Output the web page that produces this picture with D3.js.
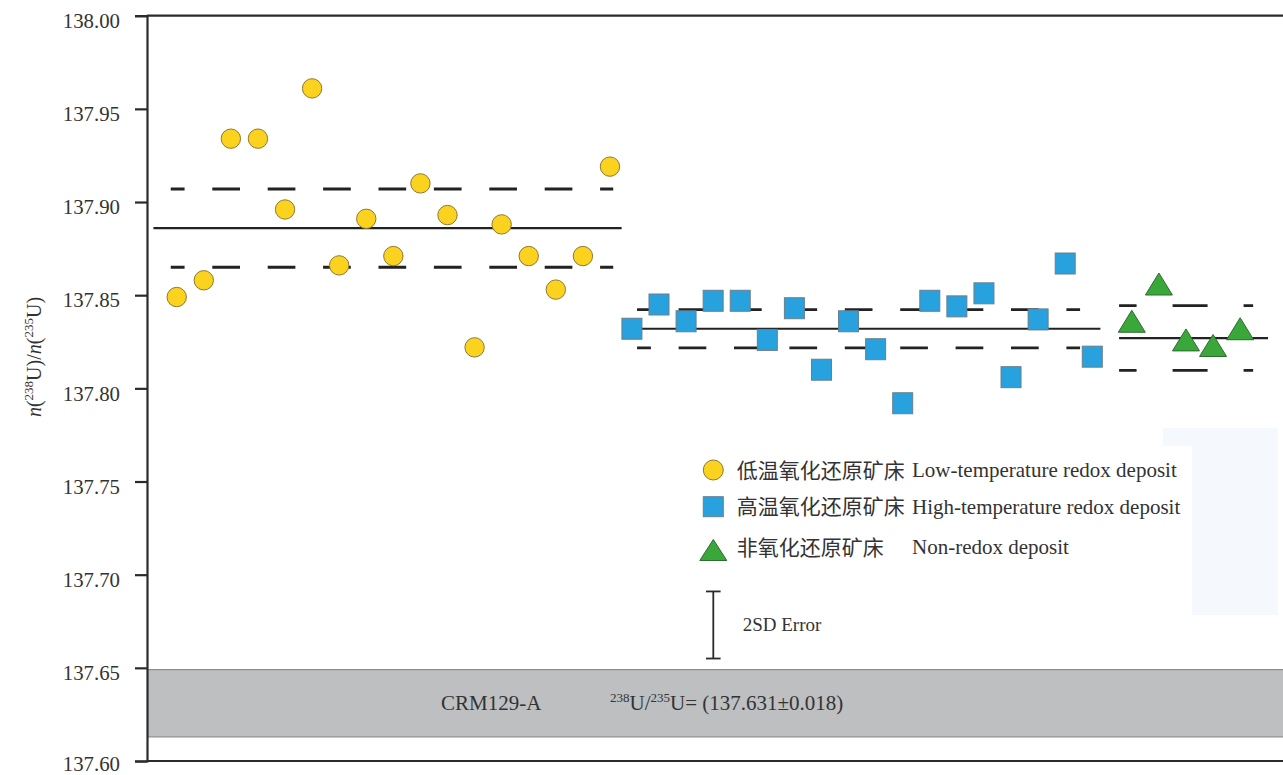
<!DOCTYPE html>
<html>
<head>
<meta charset="utf-8">
<script src="https://cdn.jsdelivr.net/npm/d3@7"></script>
<style>
  html, body { margin: 0; padding: 0; background: #ffffff; }
  svg { display: block; }
</style>
</head>
<body>
<svg id="chart" width="1283" height="775"></svg>
<script>
// ---- data ----
const categories = ["低温氧化还原矿床", "高温氧化还原矿床", "非氧化还原矿床"];
const categoriesEn = ["Low-temperature redox deposit", "High-temperature redox deposit", "Non-redox deposit"];

// n(238U)/n(235U) of individual samples
const lowTempRatios = [137.849, 137.858, 137.934, 137.934, 137.896, 137.961, 137.866, 137.891, 137.871,
                       137.910, 137.893, 137.822, 137.888, 137.871, 137.853, 137.871, 137.919];
const highTempRatios = [137.832, 137.845, 137.836, 137.847, 137.847, 137.826, 137.843, 137.810, 137.836,
                        137.821, 137.792, 137.847, 137.844, 137.851, 137.806, 137.837, 137.867, 137.817];
const nonRedoxRatios = [137.836, 137.856, 137.826, 137.823, 137.832];

// group mean and half-width of the dashed envelope
const groupMeans = [137.886, 137.832, 137.827];
const groupBands = [0.021, 0.0103, 0.0174];

const yTicks = [137.60, 137.65, 137.70, 137.75, 137.80, 137.85, 137.90, 137.95, 138.00];

// reference material CRM129-A
const crmRatio = 137.631;
const crmUncertainty = 0.018;

// 2SD error scale bar
const errorBarCenter = 137.673;
const errorBarHalf = 0.018;

// ---- layout ----
const SERIF = '"Liberation Serif", "Times New Roman", serif';
const CJK = '"Noto Sans CJK SC", sans-serif';
const TEXT_COLOR = "#333333";

const svg = d3.select("#chart");
const W = 1283, H = 775;
const axisX = 147;
const y = d3.scaleLinear().domain([137.60, 138.00]).range([761, 15.7]);
// horizontal position in sample slots
const x = d3.scaleLinear().domain([0, 1]).range([176.7, 176.7 + 27.08]);

const groupStart = [0, 16.81, 35.27];
const groupData = [lowTempRatios, highTempRatios, nonRedoxRatios];
// extents of the mean (solid) and envelope (dashed) lines, relative to first/last slot
const meanExtent = [[-0.86, 0.43], [-0.1, 0.3], [-0.47, 1.03]];
const dashExtent = [[-0.22, 0.12], [0.19, -0.45], [-0.47, 0.48]];
const dashPattern = [[27.7, 27.7], [27.7, 27.7], [35, 36]];

const colors = {
  circleFill: "#fbd31e", circleStroke: "#8a7a34",
  squareFill: "#27a2df", squareStroke: "#6a7e8c",
  triFill: "#3aa73a", triStroke: "#2f6a30"
};

function serifText(sel, size) {
  return sel.append("text")
    .style("font-family", SERIF).style("font-size", size + "px").style("fill", TEXT_COLOR);
}

// faint tinted patch at the right
svg.append("path")
  .attr("d", "M1163,428 H1278 V615 H1192 V446 H1163 Z")
  .attr("fill", "#f5f8fc");

// CRM129-A band
const bandTop = y(crmRatio + crmUncertainty), bandBot = y(crmRatio - crmUncertainty);
svg.append("rect")
  .attr("x", axisX).attr("y", bandTop)
  .attr("width", W - axisX).attr("height", bandBot - bandTop)
  .attr("fill", "#bebfc1");
[bandTop, bandBot].forEach(v => svg.append("line")
  .attr("x1", axisX).attr("x2", W).attr("y1", v).attr("y2", v)
  .attr("stroke", "#8e8e90").attr("stroke-width", 1.2));

const bandMid = y(crmRatio);
serifText(svg, 21).attr("x", 441).attr("y", bandMid + 7).text("CRM129-A");
const crmText = serifText(svg, 21).attr("x", 610).attr("y", bandMid + 7);
crmText.append("tspan").style("font-size", "13px").attr("dy", -8).text("238");
crmText.append("tspan").attr("dy", 8).text("U/");
crmText.append("tspan").style("font-size", "13px").attr("dy", -8).text("235");
crmText.append("tspan").attr("dy", 8).text("U= (" + crmRatio.toFixed(3) + "±" + crmUncertainty.toFixed(3) + ")");

// y axis
const yAxis = d3.axisLeft(y).tickValues(yTicks).tickFormat(d3.format(".2f"))
  .tickSize(12).tickPadding(15);
const gy = svg.append("g").attr("transform", `translate(${axisX},0)`).call(yAxis);
gy.select(".domain").attr("stroke", "#2b2b2b").attr("stroke-width", 2.2);
gy.selectAll(".tick line").attr("stroke", "#2b2b2b").attr("stroke-width", 2.2);
gy.selectAll(".tick text")
  .attr("dy", d => d === yTicks[0] ? "0.44em" : "0.56em")
  .style("font-family", SERIF).style("font-size", "20.8px").style("fill", TEXT_COLOR);

// top and bottom frame lines
[138.00, 137.60].forEach(v => svg.append("line")
  .attr("x1", axisX).attr("x2", W).attr("y1", y(v)).attr("y2", y(v))
  .attr("stroke", "#2b2b2b").attr("stroke-width", 2.2));

// y axis title
const title = serifText(svg, 20)
  .attr("transform", `translate(41,357) rotate(-90)`)
  .attr("text-anchor", "middle");
title.append("tspan").style("font-style", "italic").text("n");
title.append("tspan").text("(");
title.append("tspan").style("font-size", "13px").attr("dy", -8).text("238");
title.append("tspan").attr("dy", 8).text("U)/");
title.append("tspan").style("font-style", "italic").text("n");
title.append("tspan").text("(");
title.append("tspan").style("font-size", "13px").attr("dy", -8).text("235");
title.append("tspan").attr("dy", 8).text("U)");

// mean and envelope lines per group
groupData.forEach((vals, g) => {
  const first = groupStart[g], last = groupStart[g] + vals.length - 1;
  const m = groupMeans[g], b = groupBands[g];
  svg.append("line")
    .attr("x1", x(first + meanExtent[g][0])).attr("x2", x(last + meanExtent[g][1]))
    .attr("y1", y(m)).attr("y2", y(m))
    .attr("stroke", "#222").attr("stroke-width", 2.2);
  const [dl, gl] = dashPattern[g];
  [m + b, m - b].forEach(v => svg.append("line")
    .attr("x1", x(first + dashExtent[g][0])).attr("x2", x(last + dashExtent[g][1]))
    .attr("y1", y(v)).attr("y2", y(v))
    .attr("stroke", "#222").attr("stroke-width", 2.8)
    .attr("stroke-dasharray", `${dl} ${gl}`)
    .attr("stroke-dashoffset", dl / 2));
});

// marker shapes
function drawCircle(sel, cx, cy, r) {
  sel.append("circle").attr("cx", cx).attr("cy", cy).attr("r", r)
    .attr("fill", colors.circleFill).attr("stroke", colors.circleStroke).attr("stroke-width", 1);
}
function drawSquare(sel, cx, cy, w, h) {
  sel.append("rect").attr("x", cx - w / 2).attr("y", cy - h / 2).attr("width", w).attr("height", h)
    .attr("fill", colors.squareFill).attr("stroke", colors.squareStroke).attr("stroke-width", 1);
}
function drawTriangle(sel, cx, cy, w, h) {
  sel.append("path")
    .attr("d", `M${cx},${cy - h / 2} L${cx + w / 2},${cy + h / 2} L${cx - w / 2},${cy + h / 2} Z`)
    .attr("fill", colors.triFill).attr("stroke", colors.triStroke).attr("stroke-width", 1);
}

const marks = svg.append("g");
lowTempRatios.forEach((v, i) => drawCircle(marks, x(groupStart[0] + i), y(v), 9.7));
highTempRatios.forEach((v, i) => drawSquare(marks, x(groupStart[1] + i), y(v), 20, 21));
nonRedoxRatios.forEach((v, i) => drawTriangle(marks, x(groupStart[2] + i), y(v), 27, 22));

// legend
const legend = svg.append("g");
const legendX = 713.3, rowY = [470, 506.7, 547];
drawCircle(legend, legendX, rowY[0], 10);
drawSquare(legend, legendX, rowY[1], 20, 20);
drawTriangle(legend, legendX, rowY[2] + 3, 27, 21);
categories.forEach((c, i) => {
  legend.append("text").attr("x", 736.7).attr("y", rowY[i] + 7.5)
    .style("font-family", CJK).style("font-size", "21px").style("fill", TEXT_COLOR).text(c);
  serifText(legend, 21).attr("x", 912).attr("y", rowY[i] + 7).text(categoriesEn[i]);
});

// 2SD error scale bar
const ebTop = y(errorBarCenter + errorBarHalf), ebBot = y(errorBarCenter - errorBarHalf);
const eb = svg.append("g").attr("stroke", "#2b2b2b").attr("stroke-width", 1.8);
eb.append("line").attr("x1", legendX).attr("x2", legendX).attr("y1", ebTop).attr("y2", ebBot);
eb.append("line").attr("x1", legendX - 7.3).attr("x2", legendX + 7.3).attr("y1", ebTop).attr("y2", ebTop);
eb.append("line").attr("x1", legendX - 7.3).attr("x2", legendX + 7.3).attr("y1", ebBot).attr("y2", ebBot);
serifText(svg, 19).attr("x", 742.7).attr("y", y(errorBarCenter) + 6).text("2SD Error");
</script>
</body>
</html>
